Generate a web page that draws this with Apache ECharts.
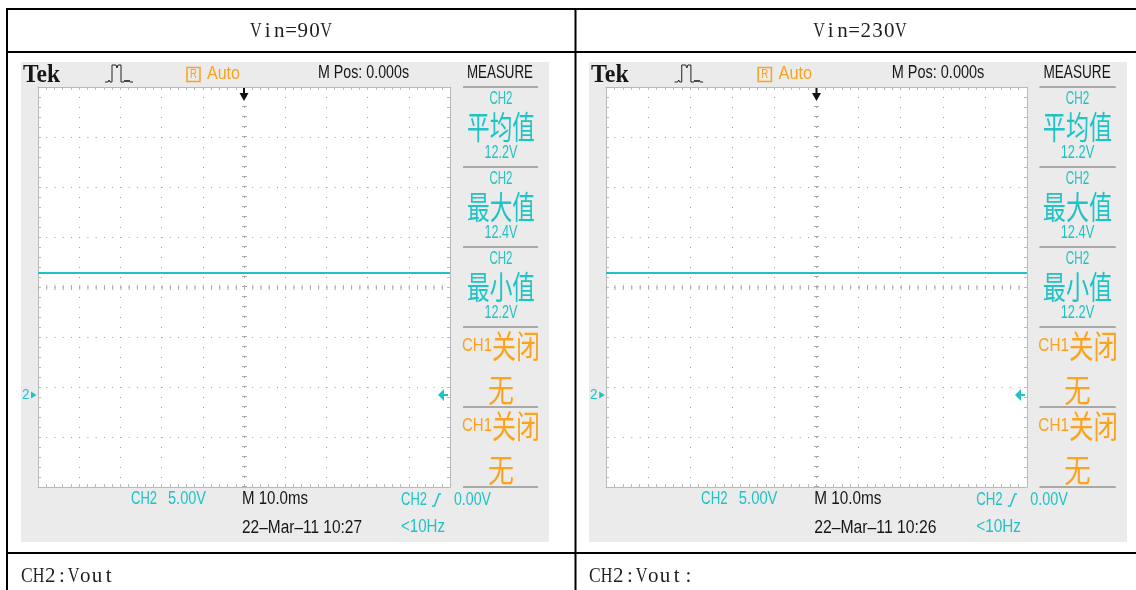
<!DOCTYPE html>
<html><head><meta charset="utf-8">
<script src="https://cdn.jsdelivr.net/npm/echarts@6/dist/echarts.min.js"></script>
<style>html,body{margin:0;padding:0;background:#fff}#c{width:1136px;height:590px}</style>
</head><body><div id="c"></div>
<script>
// ---------- data ----------
const titles = ['Vin=90V', 'Vin=230V'];
const captions = ['CH2:Vout', 'CH2:Vout:'];
const traceTimes = [-50, -25, 0, 25, 50];            // ms
const traceVolts90 = [12.2, 12.2, 12.2, 12.2, 12.2];  // V
const traceVolts230 = [12.2, 12.2, 12.2, 12.2, 12.2]; // V
const measureNames = ['平均值', '最大值', '最小值'];
const measure90 = ['12.2V', '12.4V', '12.2V'];
const measure230 = ['12.2V', '12.4V', '12.2V'];
const offLabels = ['关闭', '无'];
const timestamps = ['22–Mar–11 10:27', '22–Mar–11 10:26'];
const channelLabel = 'CH2';
const voltsPerDiv = '5.00V';
const timePerDiv = 'M 10.0ms';
const triggerLevel = '0.00V';
const triggerFreq = '<10Hz';
const hPosLabel = 'M Pos: 0.000s';
const xMin = -50, xMax = 50, xInterval = 10;   // ms, 10 divisions
const yMin = -9.2, yMax = 30.8, yInterval = 5; // V, 8 divisions (ground marker at 0 V)

// ---------- layout ----------
const panels = [
  {px: 21, pw: 528, gx: 38, gw: 412, mc: 501},
  {px: 589, pw: 538, gx: 606, gw: 421, mc: 1077.5}
];
const PY = 62, PH = 480, GY = 87, GH = 400;
const CYAN = '#1fc3c6', ORANGE = '#f9a31e', BLACK = '#161616';
const frameColor = '#b9b9b9', dotColor = '#9c9c9c', centerColor = '#aaaaaa';
const traceSets = [traceVolts90, traceVolts230];
const measureSets = [measure90, measure230];

const chart = echarts.init(document.getElementById('c'), null, {renderer: 'canvas'});

const xAxes = [], yAxes = [], grids = [], series = [];
panels.forEach((p, i) => {
  grids.push({left: p.gx, top: GY, width: p.gw, height: GH, show: true,
    backgroundColor: '#ffffff', borderWidth: 0, containLabel: false});
  const hDot = p.gw / 50;
  const base = {
    gridIndex: i, type: 'value', axisLabel: {show: false},
    axisLine: {show: true, onZero: false, lineStyle: {color: frameColor, width: 1}},
    axisTick: {show: true, inside: true, length: 3, lineStyle: {color: frameColor}},
    minorTick: {show: true, splitNumber: 5, length: 3, lineStyle: {color: frameColor}},
    splitLine: {show: false}, minorSplitLine: {show: false}
  };
  xAxes.push(Object.assign({}, base, {min: xMin, max: xMax, interval: xInterval, position: 'bottom',
    splitLine: {show: true, lineStyle: {color: dotColor, width: 1, type: [1, 9]}}}));
  xAxes.push(Object.assign({}, base, {min: xMin, max: xMax, interval: xInterval, position: 'top'}));
  yAxes.push(Object.assign({}, base, {min: yMin, max: yMax, interval: yInterval, position: 'left',
    splitLine: {show: true, lineStyle: {color: dotColor, width: 1, type: [1, hDot - 1]}}}));
  yAxes.push(Object.assign({}, base, {min: yMin, max: yMax, interval: yInterval, position: 'right'}));
  series.push({
    type: 'line', xAxisIndex: 2 * i, yAxisIndex: 2 * i, symbol: 'none', silent: true,
    lineStyle: {color: CYAN, width: 2}, clip: true, animation: false,
    data: traceTimes.map((t, k) => [t, traceSets[i][k]]),
    markLine: {
      silent: true, symbol: 'none', label: {show: false}, animation: false,
      emphasis: {disabled: true},
      data: [
        {xAxis: (xMin + xMax) / 2, lineStyle: {color: centerColor, width: 5, type: [1, 9]}},
        {yAxis: (yMin + yMax) / 2, lineStyle: {color: centerColor, width: 5, type: [1, hDot - 1]}}
      ]
    }
  });
});

chart.setOption({
  backgroundColor: '#ffffff', animation: false, tooltip: {show: false},
  grid: grids, xAxis: xAxes, yAxis: yAxes, series: series
});

// ---------- decorations ----------
const ctx = document.createElement('canvas').getContext('2d');
function T(x, y, text, o) {
  o = o || {};
  const size = o.size || 18, fam = o.family || 'Liberation Sans', weight = o.weight || 'normal';
  const font = weight + ' ' + size + 'px ' + fam;
  ctx.font = font;
  const mw = ctx.measureText(text).width;
  let sx = o.w ? o.w / mw : (o.sx || 1);
  if (o.maxW) sx = Math.min(1, o.maxW / mw);
  const align = o.align || 'left';
  return {type: 'text', x: x, y: y, scaleX: sx, scaleY: o.sy || 1, silent: true, z: 20,
    style: {text: text, fill: o.color || BLACK, font: font, align: align, verticalAlign: 'middle',
      textAlign: align, textVerticalAlign: 'middle'}};
}
// fixed-pitch serif text (like a CJK document font's half-width Latin)
function MS(G, x0, y, text, pitch) {
  for (let k = 0; k < text.length; k++) {
    G.push(T(x0 + pitch * (k + 0.5), y, text[k], {family: 'Liberation Serif', size: 21, maxW: pitch,
      color: '#1e1e1e', align: 'center'}));
  }
}
function L(x1, y1, x2, y2, color, w, z) {
  return {type: 'line', silent: true, z: z || 15, shape: {x1: x1, y1: y1, x2: x2, y2: y2},
    style: {stroke: color, lineWidth: w}};
}
function PL(pts, color, w) {
  return {type: 'polyline', silent: true, z: 15, shape: {points: pts}, style: {stroke: color, lineWidth: w, fill: null}};
}
function PG(pts, color) {
  return {type: 'polygon', silent: true, z: 16, shape: {points: pts}, style: {fill: color}};
}

const G = [];
// table
G.push(L(6, 9, 1136, 9, '#000', 2, 30));
G.push(L(6, 52, 1136, 52, '#000', 2, 30));
G.push(L(6, 553, 1136, 553, '#000', 2, 30));
G.push(L(7, 8, 7, 590, '#000', 2, 30));
G.push(L(575.5, 8, 575.5, 590, '#000', 2, 30));
const pitch = 11.7;
const titleX = [291, 860];
titles.forEach((t, i) => MS(G, titleX[i] - t.length * pitch / 2, 31, t, pitch));
const capX = [21, 589];
captions.forEach((t, i) => MS(G, capX[i], 576, t, pitch));

panels.forEach((p, i) => {
  const s = p.pw / 528;
  const X = x => p.px + (x - 21) * s;
  // panel background
  G.push({type: 'rect', silent: true, z: -10, shape: {x: p.px, y: PY, width: p.pw, height: PH}, style: {fill: '#ebebeb'}});
  // header
  G.push(T(X(23), 75, 'Tek', {family: 'Liberation Serif', weight: 'bold', size: 26, w: 37 * s}));
  G.push(PL([[X(105), 82], [X(108), 82], [X(109), 80], [X(110), 82], [X(112), 82], [X(112), 65], [X(116), 65],
    [X(117), 68], [X(118), 65], [X(121), 65], [X(121), 82], [X(124), 82], [X(125), 80], [X(126), 82], [X(127), 80],
    [X(128), 82], [X(129), 80], [X(130), 82], [X(133), 82]], '#222', 1));
  G.push({type: 'rect', silent: true, z: 15, shape: {x: X(187), y: 67.5, width: 13 * s, height: 14},
    style: {stroke: ORANGE, lineWidth: 1.5, fill: null}});
  G.push(T(X(193.5), 75, 'R', {size: 12, w: 7, color: ORANGE, align: 'center'}));
  G.push(T(X(207), 74, 'Auto', {size: 19, w: 33 * s, color: ORANGE}));
  G.push(T(X(318), 73, hPosLabel, {size: 19, w: 91 * s}));
  G.push(T(X(467), 73, 'MEASURE', {size: 19, w: 66 * s}));
  // measure column
  const sepX1 = X(463), sepX2 = X(538);
  for (let k = 0; k < 6; k++) G.push(L(sepX1, 87 + 80 * k, sepX2, 87 + 80 * k, '#a9a9a9', 2));
  measureNames.forEach((nm, k) => {
    const y0 = 87 + 80 * k;
    G.push(T(p.mc, y0 + 12, channelLabel, {size: 18, w: 23 * s, color: CYAN, align: 'center'}));
    G.push(T(p.mc, y0 + 40, nm, {family: 'Noto Sans CJK SC', size: 30, w: 68 * s, sy: 1.06, color: CYAN, align: 'center'}));
    G.push(T(p.mc, y0 + 66, measureSets[i][k], {size: 18, w: 33 * s, color: CYAN, align: 'center'}));
  });
  for (let k = 0; k < 2; k++) {
    const y0 = 327 + 80 * k;
    G.push(T(X(462), y0 + 19, 'CH1', {size: 18, w: 30 * s, color: ORANGE}));
    G.push(T(X(492), y0 + 19, offLabels[0], {family: 'Noto Sans CJK SC', size: 30, w: 48 * s, sy: 1.06, color: ORANGE}));
    G.push(T(p.mc, y0 + 63, offLabels[1], {family: 'Noto Sans CJK SC', size: 30, w: 26 * s, sy: 1.06, color: ORANGE, align: 'center'}));
  }
  // footer
  G.push(T(X(131), 499, channelLabel, {size: 19, w: 26 * s, color: CYAN}));
  G.push(T(X(168), 499, voltsPerDiv, {size: 19, w: 38 * s, color: CYAN}));
  G.push(T(X(242), 499, timePerDiv, {size: 19, w: 66 * s}));
  G.push(T(X(242), 528, timestamps[i], {size: 19, w: 120 * s}));
  G.push(T(X(401), 500, channelLabel, {size: 19, w: 26 * s, color: CYAN}));
  G.push(PL([[X(432), 506], [X(434.5), 506], [X(439), 494], [X(441), 494]], CYAN, 1.5));
  G.push(T(X(454), 500, triggerLevel, {size: 19, w: 37 * s, color: CYAN}));
  G.push(T(X(401), 527, triggerFreq, {size: 19, w: 44 * s, color: CYAN}));
  // markers from scales
  const gnd = chart.convertToPixel({xAxisIndex: 2 * i, yAxisIndex: 2 * i}, [(xMin + xMax) / 2, 0]);
  const gy = gnd[1], tx = gnd[0];
  G.push(T(X(22), gy, '2', {size: 15, w: 7.5, color: CYAN}));
  G.push(PG([[X(31), gy - 3.5], [X(36.5), gy], [X(31), gy + 3.5]], CYAN));
  const ax = p.gx + p.gw - 3;
  G.push(PG([[ax - 9, gy], [ax - 3, gy - 6], [ax - 3, gy + 6]], CYAN));
  G.push(L(ax - 4, gy, ax + 1, gy, CYAN, 2));
  G.push(L(tx, 88, tx, 94, '#111', 2));
  G.push(PG([[tx - 4.5, 93], [tx + 4.5, 93], [tx, 101]], '#111'));
});

chart.setOption({graphic: {elements: G}});
</script>
</body></html>
